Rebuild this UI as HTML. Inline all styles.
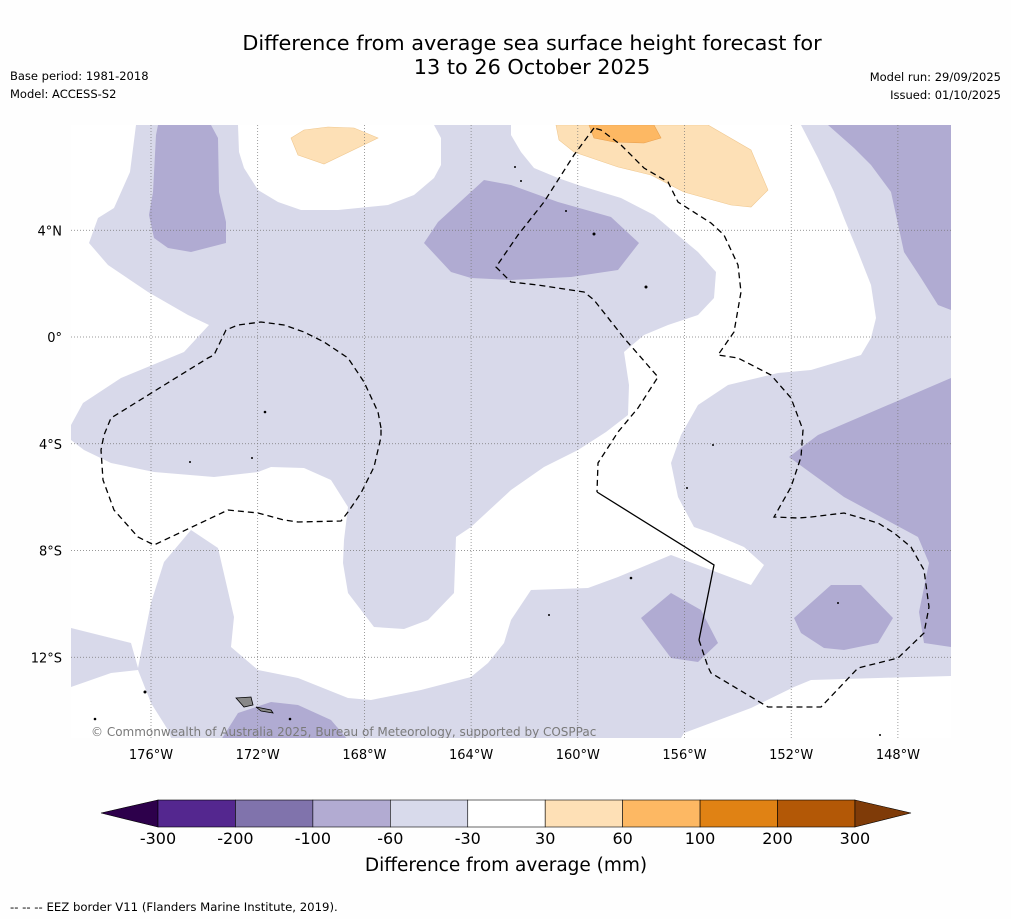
<!DOCTYPE html>
<html><head><meta charset="utf-8">
<style>
body{margin:0;background:#fff;width:1011px;height:919px;overflow:hidden;font-family:"Liberation Sans","DejaVu Sans",sans-serif}
svg{position:absolute;left:0;top:0}
</style></head>
<body>
<svg id="chart" width="1011" height="919" viewBox="0 0 1011 919" font-family="DejaVu Sans, Liberation Sans, sans-serif">
<rect width="1011" height="919" fill="#fefefe"/>
<text x="532" y="50" font-size="20.8" text-anchor="middle">Difference from average sea surface height forecast for</text>
<text x="532" y="74" font-size="20.8" text-anchor="middle">13 to 26 October 2025</text>
<text x="10" y="80" font-size="11.5">Base period: 1981-2018</text>
<text x="10" y="98" font-size="11.5">Model: ACCESS-S2</text>
<text x="1001" y="81" font-size="11.5" text-anchor="end">Model run: 29/09/2025</text>
<text x="1001" y="99" font-size="11.5" text-anchor="end">Issued: 01/10/2025</text>
<defs><clipPath id="mapclip"><rect x="71" y="125" width="880" height="613"/></clipPath></defs>
<g clip-path="url(#mapclip)">
<rect x="71" y="125" width="880" height="613" fill="#d8d9ea"/>
<polygon fill="#fff" points="71,125 136,125 130,172 114,208 98,218 89,243 108,265 148,292 188,315 209,325 184,352 121,378 83,403 71,425"/>
<polygon fill="#fff" points="238,125 239,152 244,168 258,190 278,202 301,210 338,210 388,205 414,195 434,178 441,165 441,138 434,125"/>
<polygon fill="#fff" points="511,125 511,135 521,152 534,168 558,178 578,185 621,198 654,215 674,232 698,252 716,272 714,298 698,315 668,325 644,335 624,352 629,385 628,415 606,432 578,450 544,467 511,490 471,527 456,537 454,593 428,620 404,629 374,627 348,593 343,563 344,540 348,507 331,480 304,468 271,467 258,472 214,477 154,472 111,463 84,450 71,440 71,628 131,643 138,668 151,603 164,562 191,530 218,548 234,617 231,647 258,670 298,678 348,698 371,700 421,690 471,677 488,663 504,643 511,620 531,590 588,588 618,577 671,555 711,570 751,585 764,565 744,547 711,533 694,527 678,497 671,463 681,435 698,405 728,385 778,373 811,370 861,355 871,338 876,318 871,285 858,252 844,218 834,192 818,158 801,125"/>
<polygon fill="#fff" points="71,687 111,673 138,670 151,703 168,730 171,738 71,738"/>
<polygon fill="#fff" points="681,738 684,733 751,708 794,687 811,680 878,678 951,676 951,738"/>
<g fill="#b0abd2">
<polygon points="158,125 211,125 218,138 219,192 226,222 226,243 191,252 168,248 154,238 149,215 153,192 156,135"/>
<polygon points="424,243 438,222 484,180 511,185 558,202 611,217 639,243 618,270 571,277 511,280 471,278 451,272"/>
<polygon points="828,125 951,125 951,310 938,305 921,278 904,252 891,192 871,165 854,148"/>
<polygon points="818,435 951,378 951,647 924,643 919,612 929,563 918,537 844,497 789,457"/>
<polygon points="641,618 671,593 701,610 718,643 698,662 671,658"/>
<polygon points="794,618 831,585 861,585 893,618 878,643 844,650 824,648 801,633"/>
<polygon points="221,740 238,713 271,702 298,705 331,720 348,740"/>
</g>
<polygon fill="#fde0b6" stroke="#f0c890" stroke-width="0.6" points="291,138 304,130 328,127 354,128 378,138 324,164 298,155"/>
<polygon fill="#fde0b6" stroke="#f0c890" stroke-width="0.6" points="556,125 708,125 751,150 768,190 751,207 731,205 684,192 651,175 618,167 574,152 559,140"/>
<polygon fill="#fdb863" stroke="#e8a050" stroke-width="0.6" points="589,125 654,125 661,138 644,143 614,142 594,138"/>
<g id="grid"></g>
<path fill="none" stroke="#000" stroke-width="1.3" stroke-dasharray="6,4" d="M381,428 L378,412 364,382 348,358 324,342 304,332 284,325 261,322 238,325 226,330 214,355 208,358 111,418 104,435 101,450 103,480 114,510 138,537 154,545 228,510 258,513 284,520 298,522 341,521 348,512 361,493 374,467 381,437 Z"/>
<path fill="none" stroke="#000" stroke-width="1.3" stroke-dasharray="6,4" d="M594,128 L574,155 544,202 518,235 496,267 511,282 538,285 584,292 594,300 624,338 658,377 638,408 618,432 598,463 597,492"/>
<path fill="none" stroke="#000" stroke-width="1.3" d="M597,492 L714,565 699,640"/>
<path fill="none" stroke="#000" stroke-width="1.3" stroke-dasharray="6,4" d="M699,640 L708,667 711,673 768,707 821,707 858,668 898,658 924,633 929,607 924,570 911,547 894,533 878,523 844,513 811,517 798,518 774,517 791,487 801,457 803,430 791,398 771,375 738,358 718,355 734,332 741,292 738,265 724,235 711,223 678,202 668,182 644,168 621,145 601,130 594,128"/>
<polygon fill="#888" stroke="#000" stroke-width="0.8" points="236,698 251,697 253,705 244,707"/>
<polygon fill="#888" stroke="#000" stroke-width="0.8" points="256,707 271,710 273,713 261,711"/>
<g fill="#000">
<circle cx="265" cy="412" r="1.3"/><circle cx="190" cy="462" r="1"/><circle cx="252" cy="458" r="1"/><circle cx="594" cy="234" r="1.5"/><circle cx="646" cy="287" r="1.5"/><circle cx="713" cy="445" r="1"/><circle cx="687" cy="488" r="1"/><circle cx="631" cy="578" r="1.3"/><circle cx="549" cy="615" r="1"/><circle cx="145" cy="692" r="1.5"/><circle cx="95" cy="719" r="1.3"/><circle cx="290" cy="719" r="1.3"/><circle cx="838" cy="603" r="1"/><circle cx="515" cy="167" r="1"/><circle cx="521" cy="181" r="1"/><circle cx="566" cy="211" r="1"/><circle cx="880" cy="735" r="1"/>
</g>
<text x="91" y="736" font-size="12" fill="#7a7a7a">© Commonwealth of Australia 2025, Bureau of Meteorology, supported by COSPPac</text>
</g>
<g id="ticks"></g>
<g id="cbar"></g>
<text x="506" y="871" font-size="18.5" text-anchor="middle">Difference from average (mm)</text>
<text x="10" y="911" font-size="11.7">--  --  -- EEZ border V11 (Flanders Marine Institute, 2019).</text>
</svg>
<script>
const lonTicks=[-176,-172,-168,-164,-160,-156,-152,-148];
const latTicks=[4,0,-4,-8,-12];
const cbLevels=[-300,-200,-100,-60,-30,30,60,100,200,300];
const cbColors=["#54278f","#8073ac","#b2abd2","#d8daeb","#ffffff","#fee0b6","#fdb863","#e08214","#b35806"];
const cbUnder="#2d004b", cbOver="#7f3b08";
const NS="http://www.w3.org/2000/svg";
function lonX(lon){return 151+(lon+176)*106.7/4;}
function latY(lat){return 337-lat*106.75/4;}
function mk(tag,attrs,parent){const e=document.createElementNS(NS,tag);for(const k in attrs)e.setAttribute(k,attrs[k]);parent.appendChild(e);return e;}
const grid=document.getElementById('grid'),ticks=document.getElementById('ticks'),cbar=document.getElementById('cbar');
lonTicks.forEach(l=>{
  const x=lonX(l);
  const ln=mk('line',{x1:x,x2:x,y1:125,y2:738,stroke:'#777','stroke-width':0.7,'stroke-dasharray':'1,2'},grid);
  
  
  const t=mk('text',{x:x,y:759,'font-size':13,'text-anchor':'middle'},ticks);
  t.textContent=Math.abs(l)+'°W';
  
  
});
latTicks.forEach(l=>{
  const y=latY(l);
  const ln=mk('line',{x1:71,x2:951,y1:y,y2:y,stroke:'#777','stroke-width':0.7,'stroke-dasharray':'1,2'},grid);
  
  
  const t=mk('text',{x:62,y:y+5,'font-size':13,'text-anchor':'end'},ticks);
  t.textContent=l===0?'0°':Math.abs(l)+'°'+(l>0?'N':'S');
  
  
});
const cbX0=158,cbW=77.44,cbY=800,cbH=27;
function cbx(i){return cbX0+i*cbW;}
const under=mk('polygon',{points:`101,813 ${cbX0},${cbY} ${cbX0},${cbY+cbH}`,fill:cbUnder,stroke:'#000','stroke-width':0.6},cbar);


cbColors.forEach((c,i)=>{
  const r=mk('rect',{x:cbx(i),y:cbY,width:cbW,height:cbH,fill:c,stroke:'#000','stroke-width':0.6},cbar);
  
  
});
const xe=cbx(cbColors.length);
const over=mk('polygon',{points:`${xe},${cbY} 911,813 ${xe},${cbY+cbH}`,fill:cbOver,stroke:'#000','stroke-width':0.6},cbar);


cbLevels.forEach((v,i)=>{
  const t=mk('text',{x:cbx(i),y:844,'font-size':16,'text-anchor':'middle'},cbar);
  t.textContent=v;
  
  
});
</script>
</body></html>
